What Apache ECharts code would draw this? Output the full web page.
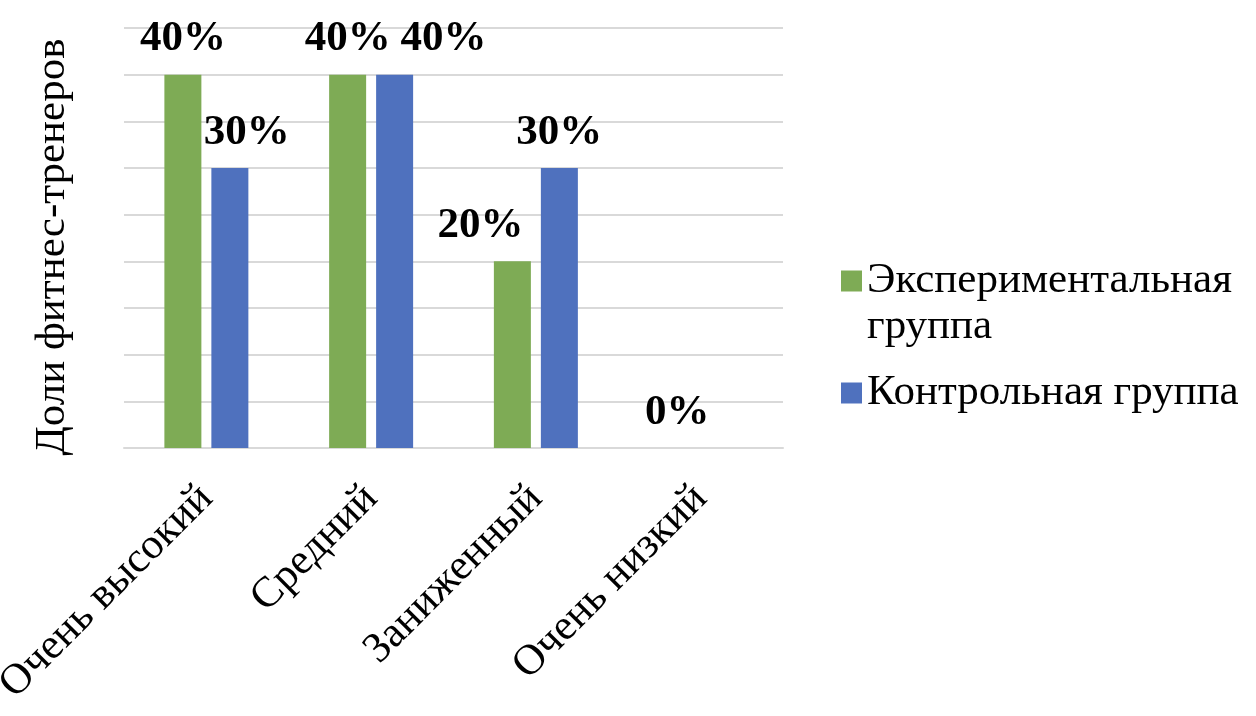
<!DOCTYPE html>
<html>
<head>
<meta charset="utf-8">
<script src="https://cdn.jsdelivr.net/npm/echarts@6/dist/echarts.min.js"></script>
<style>
html,body{margin:0;padding:0;background:#fff;}
#chart{width:1256px;height:716px;}
</style>
</head>
<body>
<div id="chart"></div>
<script>
const categories = ['Очень высокий', 'Средний', 'Заниженный', 'Очень низкий'];
const seriesNames = ['Экспериментальная группа', 'Контрольная группа'];
const experimental = [40, 40, 20, 0];
const control = [30, 40, 30, 0];
const yMin = 0, yMax = 45, yStep = 5;
const yAxisTitle = 'Доли фитнес-тренеров';

const FONT = '"Liberation Serif", "Times New Roman", serif';
const GREEN = '#7eab55';
const BLUE = '#4f71be';

// label nudges (as in the source, labels moved sideways to avoid overlap)
const expLabelShift = [0, 0, -32, 0];
const ctlLabelShift = [17, 49, 0, 0];
const ctlLabelShow = [true, true, true, false];

function items(values, shifts, shows) {
  return values.map((v, i) => ({
    value: v,
    label: { offset: [shifts[i], 0], show: shows ? shows[i] : true }
  }));
}

const labelStyle = {
  show: true,
  position: 'top',
  distance: 14,
  formatter: p => p.value + '%',
  fontFamily: FONT,
  fontWeight: 'bold',
  fontSize: 43,
  color: '#000'
};

const chart = echarts.init(document.getElementById('chart'), null, { renderer: 'canvas' });
chart.setOption({
  backgroundColor: '#fff',
  animation: false,
  grid: { left: 124, right: 473, top: 28, bottom: 268, containLabel: false, outerBoundsMode: 'none' },
  legend: [
    {
      data: [seriesNames[0]],
      orient: 'vertical',
      left: 836,
      top: 207,
      itemWidth: 21,
      itemHeight: 21,
      icon: 'rect',
      formatter: () => ' \nЭкспериментальная\nгруппа',
      textStyle: { fontFamily: FONT, fontSize: 43, color: '#000', lineHeight: 46 }
    },
    {
      data: [seriesNames[1]],
      orient: 'vertical',
      left: 836,
      top: 365,
      itemWidth: 21,
      itemHeight: 21,
      icon: 'rect',
      textStyle: { fontFamily: FONT, fontSize: 43, color: '#000', lineHeight: 46 }
    }
  ],
  xAxis: {
    type: 'category',
    data: categories,
    axisLine: { show: true, lineStyle: { color: '#d9d9d9', width: 2 } },
    axisTick: { show: false },
    axisLabel: {
      rotate: 45,
      margin: 44,
      interval: 0,
      fontFamily: FONT,
      fontSize: 43,
      color: '#000'
    }
  },
  yAxis: {
    type: 'value',
    min: yMin,
    max: yMax,
    interval: yStep,
    name: yAxisTitle,
    nameLocation: 'middle',
    nameRotate: 90,
    nameGap: 50,
    nameTextStyle: { fontFamily: FONT, fontSize: 43, color: '#000', padding: [0, 18, 0, 0] },
    axisLine: { show: false },
    axisTick: { show: false },
    axisLabel: { show: false },
    splitLine: { show: true, lineStyle: { color: '#d9d9d9', width: 2 } }
  },
  series: [
    {
      name: seriesNames[0],
      type: 'bar',
      data: items(experimental, expLabelShift),
      barWidth: 37,
      barGap: '27%',
      itemStyle: { color: GREEN },
      label: labelStyle
    },
    {
      name: seriesNames[1],
      type: 'bar',
      data: items(control, ctlLabelShift, ctlLabelShow),
      barWidth: 37,
      barGap: '27%',
      itemStyle: { color: BLUE },
      label: labelStyle
    }
  ]
});
</script>
</body>
</html>
